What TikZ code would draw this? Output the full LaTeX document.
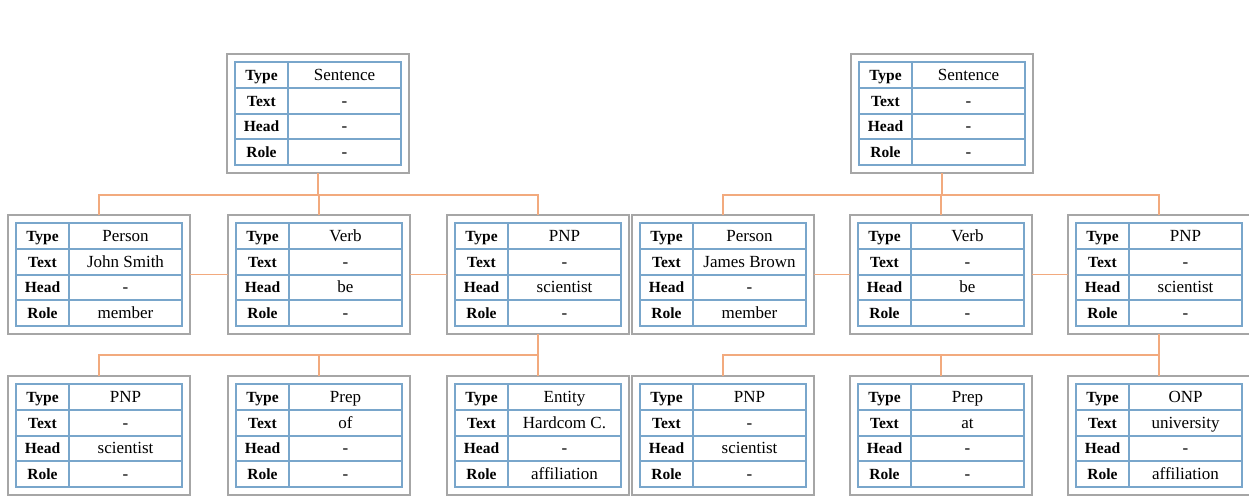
\documentclass[tikz,border=0pt]{standalone}
\usepackage{fontspec}
\setmainfont{Liberation Serif}
\definecolor{framegray}{HTML}{A6A6A6}
\definecolor{gridblue}{HTML}{79A6CB}
\definecolor{linkorange}{HTML}{F2AA7E}
\tikzset{
  outerbox/.style={draw=framegray, line width=2.5pt, fill=white, rectangle,
    minimum width=182pt, minimum height=119pt, inner sep=0pt, outer sep=0pt},
  grid/.style={draw=gridblue, line width=2pt},
  keytext/.style={font=\fontsize{15.5}{17}\selectfont\bfseries, inner sep=0pt, anchor=base},
  valtext/.style={font=\fontsize{17}{19}\selectfont, inner sep=0pt, anchor=base},
  link/.style={draw=linkorange, line width=1.1pt}
}
% one feature box: name, left, top, type, text, head, role
\newcommand{\featbox}[7]{%
  \node[outerbox, anchor=north west] (#1) at (#2,#3) {};
  \begin{scope}[shift={(#2,#3)}]
    \draw[grid] (8,8) rectangle (174,111);
    \foreach \r in {1,2,3} \draw[grid] (8,8+25.75*\r) -- (174,8+25.75*\r);
    \draw[grid] (61,8) -- (61,111);
    \node[keytext] (#1-k1) at (34.5,8+25.75*0.5+5.5) {Type};
    \node[keytext] (#1-k2) at (34.5,8+25.75*1.5+5.5) {Text};
    \node[keytext] (#1-k3) at (34.5,8+25.75*2.5+5.5) {Head};
    \node[keytext] (#1-k4) at (34.5,8+25.75*3.5+5.5) {Role};
    \node[valtext] (#1-v1) at (117.5,8+25.75*0.5+5.5) {#4};
    \node[valtext] (#1-v2) at (117.5,8+25.75*1.5+5.5) {#5};
    \node[valtext] (#1-v3) at (117.5,8+25.75*2.5+5.5) {#6};
    \node[valtext] (#1-v4) at (117.5,8+25.75*3.5+5.5) {#7};
  \end{scope}}
\begin{document}
\begin{tikzpicture}[x=1pt, y=-1pt]
\useasboundingbox[fill=white] (0,0) rectangle (1249,495);

% left sentence tree
\featbox{s1}{227}{54}{Sentence}{-}{-}{-}
\featbox{a}{8}{215}{Person}{John Smith}{-}{member}
\featbox{b}{228}{215}{Verb}{-}{be}{-}
\featbox{c}{447}{215}{PNP}{-}{scientist}{-}
\featbox{ba}{8}{376}{PNP}{-}{scientist}{-}
\featbox{bb}{228}{376}{Prep}{of}{-}{-}
\featbox{bc}{447}{376}{Entity}{Hardcom C.}{-}{affiliation}

% right sentence tree
\featbox{s2}{851}{54}{Sentence}{-}{-}{-}
\featbox{d}{632}{215}{Person}{James Brown}{-}{member}
\featbox{e}{850}{215}{Verb}{-}{be}{-}
\featbox{f}{1068}{215}{PNP}{-}{scientist}{-}
\featbox{bd}{632}{376}{PNP}{-}{scientist}{-}
\featbox{be}{850}{376}{Prep}{at}{-}{-}
\featbox{bf}{1068}{376}{ONP}{university}{-}{affiliation}

% connectors, left tree
\draw[link] (s1.south) -- ++(0,22) coordinate (j1);
\draw[link] (a.north) |- (j1) -| (c.north);
\draw[link] (b.north |- j1) -- (b.north);
\draw[link] (a.east) -- (b.west);
\draw[link] (b.east) -- (c.west);
\draw[link] (c.south) -- ++(0,21) coordinate (j2);
\draw[link] (ba.north) |- (j2) -| (bc.north);
\draw[link] (bb.north |- j2) -- (bb.north);

% connectors, right tree
\draw[link] (s2.south) -- ++(0,22) coordinate (j3);
\draw[link] (d.north) |- (j3) -| (f.north);
\draw[link] (e.north |- j3) -- (e.north);
\draw[link] (d.east) -- (e.west);
\draw[link] (e.east) -- (f.west);
\draw[link] (f.south) -- ++(0,21) coordinate (j4);
\draw[link] (bd.north) |- (j4) -| (bf.north);
\draw[link] (be.north |- j4) -- (be.north);
\end{tikzpicture}
\end{document}
